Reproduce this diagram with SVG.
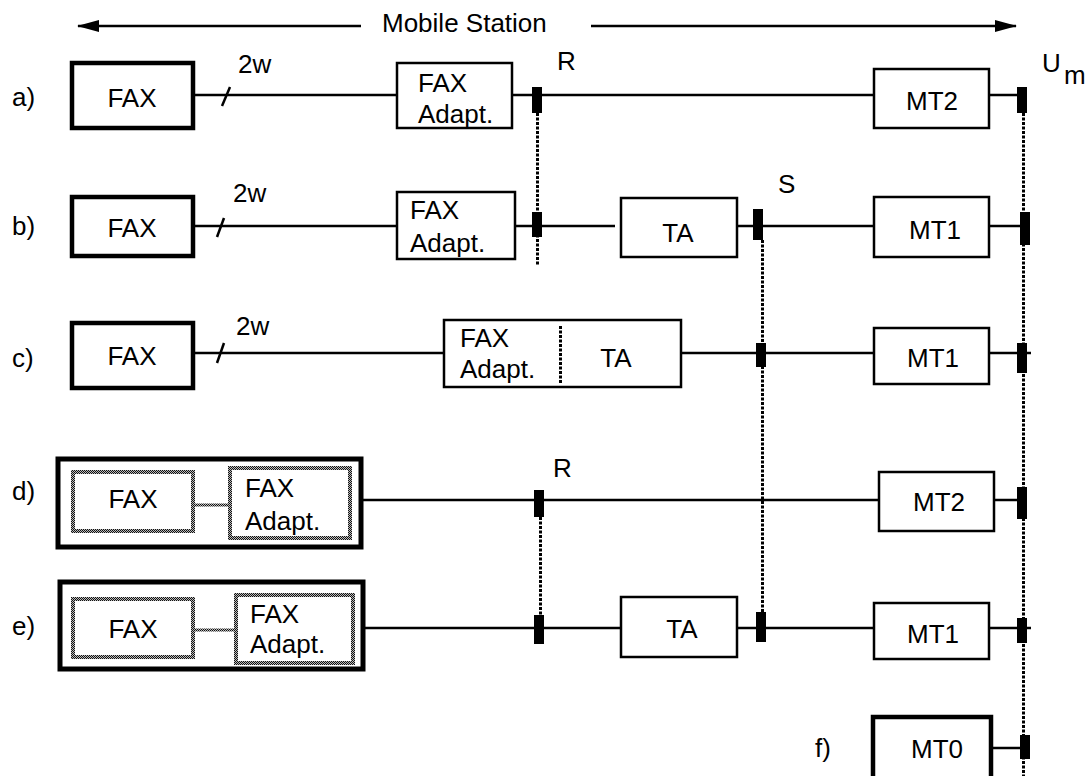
<svg xmlns="http://www.w3.org/2000/svg" width="1087" height="776" viewBox="0 0 1087 776">
<style>
text{font-family:"Liberation Sans",Arial,sans-serif;font-size:26px;fill:#000}
.c{text-anchor:middle}
.box{fill:#fff;stroke:#000;stroke-width:2.5}
.thick{fill:#fff;stroke:#000;stroke-width:4.5}
.outer{fill:#fff;stroke:#000;stroke-width:5}
.hat{fill:#fff;stroke:url(#dither);stroke-width:4}
.ln{stroke:#000;stroke-width:2.5;fill:none}
.dot{stroke:#000;stroke-width:3;stroke-dasharray:3 1.5;fill:none}
.term{fill:#000}
</style>
<defs>
<pattern id="dither" width="2" height="2" patternUnits="userSpaceOnUse">
<rect width="2" height="2" fill="#bbb"/>
<rect width="1" height="1" fill="#111"/>
<rect x="1" y="1" width="1" height="1" fill="#111"/>
</pattern>
<marker id="ah" viewBox="0 0 22 12" refX="21" refY="6" markerWidth="22" markerHeight="12" markerUnits="userSpaceOnUse" orient="auto-start-reverse">
<path d="M0,0 L22,6 L0,12 Z" fill="#000"/>
</marker>
</defs>

<g id="header">
<line class="ln" x1="361" y1="26" x2="78" y2="26" marker-end="url(#ah)"/>
<text x="382" y="32">Mobile Station</text>
<line class="ln" x1="591" y1="26" x2="1016" y2="26" marker-end="url(#ah)"/>
</g>

<g id="connectors">
<!-- row a -->
<line class="ln" x1="193" y1="95" x2="397" y2="95"/>
<line class="ln" x1="222" y1="106" x2="230" y2="87"/>
<line class="ln" x1="512" y1="95" x2="874" y2="95"/>
<line class="ln" x1="989" y1="95" x2="1022" y2="95"/>
<!-- row b -->
<line class="ln" x1="193" y1="226" x2="397" y2="226"/>
<line class="ln" x1="217" y1="237" x2="224" y2="218"/>
<line class="ln" x1="515" y1="226" x2="615" y2="226"/>
<line class="ln" x1="737" y1="226" x2="874" y2="226"/>
<line class="ln" x1="989" y1="226" x2="1025" y2="226"/>
<!-- row c -->
<line class="ln" x1="193" y1="353" x2="444" y2="353"/>
<line class="ln" x1="217" y1="363" x2="224" y2="343"/>
<line class="ln" x1="681" y1="353" x2="874" y2="353"/>
<line class="ln" x1="989" y1="353" x2="1031" y2="353"/>
<!-- row d -->
<line class="ln" x1="361" y1="500" x2="879" y2="500"/>
<line class="ln" x1="994" y1="500" x2="1022" y2="500"/>
<!-- row e -->
<line class="ln" x1="363" y1="628" x2="621" y2="628"/>
<line class="ln" x1="737" y1="628" x2="874" y2="628"/>
<line class="ln" x1="989" y1="628" x2="1031" y2="628"/>
<!-- row f -->
<line class="ln" x1="991" y1="748" x2="1025" y2="748"/>
<!-- reference point dotted lines -->
<line class="dot" x1="537.5" y1="113" x2="537.5" y2="266"/>
<line class="dot" x1="540.5" y1="517" x2="540.5" y2="615"/>
<line class="dot" x1="762.5" y1="240" x2="762.5" y2="612"/>
<line class="dot" x1="1023.5" y1="113" x2="1023.5" y2="776"/>
<!-- terminals -->
<rect class="term" x="532" y="87" width="10" height="26"/>
<rect class="term" x="1017" y="87" width="10" height="26"/>
<rect class="term" x="532" y="212" width="10" height="25"/>
<rect class="term" x="753" y="209" width="10" height="31"/>
<rect class="term" x="1020" y="212" width="10" height="33"/>
<rect class="term" x="756" y="343" width="10" height="24"/>
<rect class="term" x="1017" y="343" width="10" height="30"/>
<rect class="term" x="534" y="490" width="10" height="27"/>
<rect class="term" x="1017" y="487" width="10" height="32"/>
<rect class="term" x="534" y="615" width="10" height="29"/>
<rect class="term" x="756" y="612" width="10" height="30"/>
<rect class="term" x="1017" y="618" width="10" height="25"/>
<rect class="term" x="1020" y="735" width="10" height="24"/>
</g>

<g id="labels">
<text x="12" y="106">a)</text>
<text x="12" y="235">b)</text>
<text x="12" y="367">c)</text>
<text x="12" y="500">d)</text>
<text x="12" y="635">e)</text>
<text x="815" y="757">f)</text>
<text x="238" y="73">2w</text>
<text x="233" y="202">2w</text>
<text x="236" y="335">2w</text>
<text x="557" y="70">R</text>
<text x="778" y="193">S</text>
<text x="553" y="477">R</text>
<text x="1042" y="72">U</text>
<text x="1064" y="84">m</text>
</g>

<g id="a-fax"><rect class="thick" x="72" y="63" width="121" height="65"/><text class="c" x="132" y="107">FAX</text></g>
<g id="a-adapt"><rect class="box" x="397" y="63" width="115" height="65"/><text x="418" y="92">FAX</text><text x="418" y="123">Adapt.</text></g>
<g id="a-mt2"><rect class="box" x="874" y="69" width="115" height="59"/><text class="c" x="932" y="110">MT2</text></g>

<g id="b-fax"><rect class="thick" x="72" y="197" width="121" height="59"/><text class="c" x="132" y="237">FAX</text></g>
<g id="b-adapt"><rect class="box" x="397" y="192" width="118" height="67"/><text x="410" y="219">FAX</text><text x="410" y="252">Adapt.</text></g>
<g id="b-ta"><rect class="box" x="621" y="198" width="116" height="59"/><text class="c" x="678" y="242">TA</text></g>
<g id="b-mt1"><rect class="box" x="874" y="197" width="115" height="60"/><text class="c" x="935" y="239">MT1</text></g>

<g id="c-fax"><rect class="thick" x="72" y="323" width="121" height="65"/><text class="c" x="132" y="365">FAX</text></g>
<g id="c-adapt-ta"><rect class="box" x="444" y="320" width="237" height="67"/><line class="dot" x1="560.5" y1="326" x2="560.5" y2="383"/><text x="460" y="347">FAX</text><text x="460" y="378">Adapt.</text><text class="c" x="616" y="367">TA</text></g>
<g id="c-mt1"><rect class="box" x="874" y="328" width="115" height="56"/><text class="c" x="933" y="367">MT1</text></g>

<g id="d-terminal"><rect class="outer" x="58" y="459" width="303" height="88"/>
<rect class="hat" x="73" y="472" width="120" height="59"/><text class="c" x="133" y="508">FAX</text>
<line x1="193" y1="505" x2="230" y2="505" stroke="url(#dither)" stroke-width="3"/>
<rect class="hat" x="230" y="468" width="120" height="70"/><text x="245" y="497">FAX</text><text x="245" y="530">Adapt.</text></g>
<g id="d-mt2"><rect class="box" x="879" y="472" width="115" height="59"/><text class="c" x="939" y="511">MT2</text></g>

<g id="e-terminal"><rect class="outer" x="60" y="582" width="303" height="87"/>
<rect class="hat" x="73" y="599" width="120" height="58"/><text class="c" x="133" y="638">FAX</text>
<line x1="193" y1="630" x2="236" y2="630" stroke="url(#dither)" stroke-width="3"/>
<rect class="hat" x="236" y="595" width="117" height="68"/><text x="250" y="623">FAX</text><text x="250" y="653">Adapt.</text></g>
<g id="e-ta"><rect class="box" x="621" y="597" width="116" height="60"/><text class="c" x="682" y="638">TA</text></g>
<g id="e-mt1"><rect class="box" x="874" y="603" width="115" height="56"/><text class="c" x="933" y="643">MT1</text></g>

<g id="f-mt0"><rect class="thick" x="873" y="717" width="118" height="64"/><text class="c" x="937" y="758">MT0</text></g>
</svg>
